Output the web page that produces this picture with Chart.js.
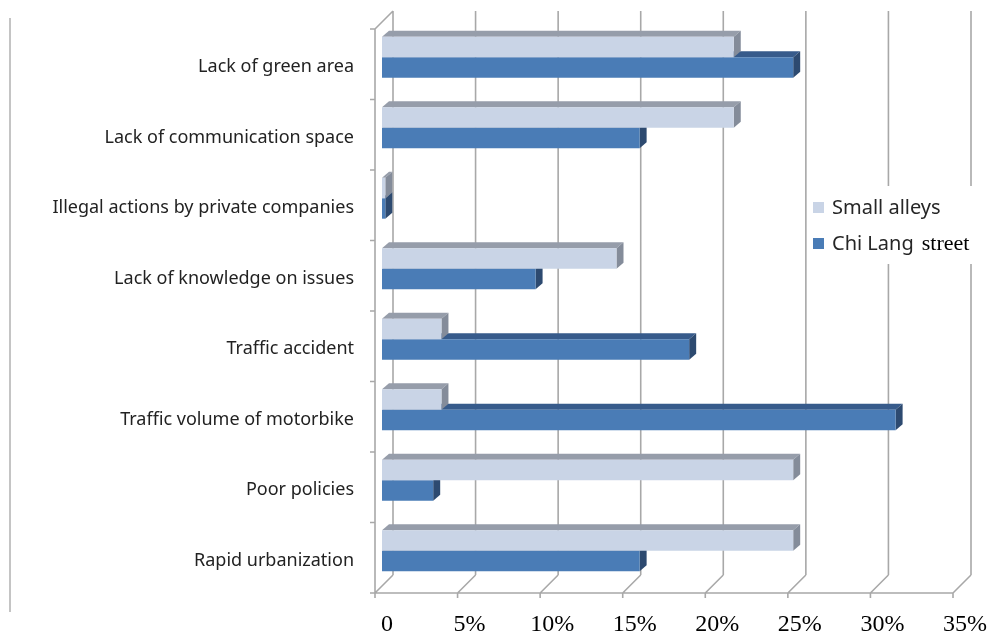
<!DOCTYPE html>
<html>
<head>
<meta charset="utf-8">
<script src="https://cdn.jsdelivr.net/npm/chart.js@4.4.0/dist/chart.umd.min.js"></script>
<style>
  html, body { margin: 0; padding: 0; background: #fff; }
  #wrap { width: 995px; height: 639px; position: relative; }
</style>
</head>
<body>
<div id="wrap"><canvas id="c" width="995" height="639"></canvas></div>
<script>
// values (percent)
const categories = [
    'Lack of green area',
    'Lack of communication space',
    'Illegal actions by private companies',
    'Lack of knowledge on issues',
    'Traffic accident',
    'Traffic volume of motorbike',
    'Poor policies',
    'Rapid urbanization',
];
const smallAlleys   = [21.3, 21.3, 0.2, 14.2, 3.6, 3.6, 24.9, 24.9];
const chiLangStreet = [24.9, 15.6, 0.2, 9.3, 18.6, 31.1, 3.1, 15.6];
const xTicks = [0, 5, 10, 15, 20, 25, 30, 35];
const seriesNames = ['Small alleys', 'Chi Lang'];

const FRONT = { dx: -7, dy: 7 };   // front plane offset from the bar plane
const BACK  = { dx: 11, dy: -11 }; // back wall offset
const DEPTH = { dx: 7, dy: -6 };   // bar depth

const faces = [
    { front: '#c9d4e6', top: '#969daa', side: '#848c9a' },
    { front: '#4a7cb6', top: '#375b8b', side: '#2d4a70' },
];

// back wall, floor and axes of the fake 3D box
const boxPlugin = {
    id: 'box3d',
    beforeDatasetsDraw(chart) {
        const { ctx, chartArea: ca, scales: { x: xs } } = chart;
        ctx.save();
        ctx.strokeStyle = '#a8a8a8';
        ctx.lineWidth = 1.6;
        ctx.beginPath();
        for (const v of xTicks) {
            const px = xs.getPixelForValue(v);
            ctx.moveTo(px + BACK.dx, ca.top + BACK.dy);
            ctx.lineTo(px + BACK.dx, ca.bottom + BACK.dy);
            ctx.moveTo(px + FRONT.dx, ca.bottom + FRONT.dy);
            ctx.lineTo(px + BACK.dx, ca.bottom + BACK.dy);
            ctx.moveTo(px + FRONT.dx, ca.bottom + FRONT.dy);
            ctx.lineTo(px + FRONT.dx, ca.bottom + FRONT.dy + 5);
        }
        const x0 = xs.getPixelForValue(xTicks[0]);
        const x1 = xs.getPixelForValue(xTicks[xTicks.length - 1]);
        ctx.moveTo(x0 + FRONT.dx, ca.bottom + FRONT.dy);
        ctx.lineTo(x1 + FRONT.dx, ca.bottom + FRONT.dy);
        ctx.moveTo(x0 + FRONT.dx, ca.top + FRONT.dy);
        ctx.lineTo(x0 + FRONT.dx, ca.bottom + FRONT.dy);
        ctx.moveTo(x0 + FRONT.dx, ca.top + FRONT.dy);
        ctx.lineTo(x0 + BACK.dx, ca.top + BACK.dy);
        const band = (ca.bottom - ca.top) / categories.length;
        for (let i = 0; i <= categories.length; i++) {
            const y = ca.top + i * band + FRONT.dy;
            ctx.moveTo(x0 + FRONT.dx - 5, y);
            ctx.lineTo(x0 + FRONT.dx, y);
        }
        ctx.stroke();

        // top and side faces of each bar, lower series first
        for (let d = chart.data.datasets.length - 1; d >= 0; d--) {
            const meta = chart.getDatasetMeta(d);
            const f = faces[d];
            for (const el of meta.data) {
                const top = el.y - el.height / 2;
                const bot = el.y + el.height / 2;
                ctx.fillStyle = f.top;
                ctx.beginPath();
                ctx.moveTo(el.base, top);
                ctx.lineTo(el.x, top);
                ctx.lineTo(el.x + DEPTH.dx, top + DEPTH.dy);
                ctx.lineTo(el.base + DEPTH.dx, top + DEPTH.dy);
                ctx.closePath();
                ctx.fill();
                ctx.fillStyle = f.side;
                ctx.beginPath();
                ctx.moveTo(el.x, top);
                ctx.lineTo(el.x + DEPTH.dx, top + DEPTH.dy);
                ctx.lineTo(el.x + DEPTH.dx, bot + DEPTH.dy);
                ctx.lineTo(el.x, bot);
                ctx.closePath();
                ctx.fill();
            }
        }
        ctx.restore();
    },
    afterDraw(chart) {
        const { ctx } = chart;
        ctx.save();
        // page rule on the left
        ctx.strokeStyle = '#c4c4c4';
        ctx.lineWidth = 2;
        ctx.beginPath();
        ctx.moveTo(10, 18);
        ctx.lineTo(10, 612);
        ctx.stroke();

        // legend
        ctx.fillStyle = '#fff';
        ctx.fillRect(808, 186, 187, 78);
        ctx.textBaseline = 'middle';
        const rows = [208, 244];
        rows.forEach((y, i) => {
            ctx.fillStyle = faces[i].front;
            ctx.fillRect(813, y - 6, 11, 11);
            ctx.fillStyle = '#262626';
            ctx.font = '20px "Noto Sans"';
            ctx.fillText(seriesNames[i], 832, y);
        });
        const w = ctx.measureText(seriesNames[1]).width;
        ctx.fillStyle = '#000';
        ctx.font = '22px "Liberation Serif"';
        ctx.fillText('street', 832 + w + 8, rows[1]);
        ctx.restore();
    },
};

new Chart(document.getElementById('c'), {
    type: 'bar',
    data: {
        labels: categories,
        datasets: [
            { label: seriesNames[0], data: smallAlleys, backgroundColor: faces[0].front },
            { label: seriesNames[1] + ' street', data: chiLangStreet, backgroundColor: faces[1].front },
        ],
    },
    options: {
        indexAxis: 'y',
        responsive: false,
        animation: false,
        layout: { padding: { top: 22, right: 35, left: 0, bottom: 0 } },
        datasets: { bar: { categoryPercentage: 0.58, barPercentage: 1.0, borderWidth: 0 } },
        plugins: { legend: { display: false }, tooltip: { enabled: false } },
        scales: {
            x: {
                min: 0, max: 35,
                grid: { display: false, drawTicks: true, tickLength: 24 },
                border: { display: false },
                afterFit: (s) => { s.height = 53; },
                afterBuildTicks: (s) => { s.ticks = xTicks.map(v => ({ value: v })); },
                ticks: {
                    padding: 0,
                    labelOffset: 5,
                    maxRotation: 0,
                    color: '#000',
                    font: { family: '"Liberation Serif"', size: 24 },
                    callback: (v) => v === 0 ? '0' : v + '%',
                },
            },
            y: {
                grid: { display: false, drawTicks: true, tickLength: 28 },
                border: { display: false },
                afterFit: (s) => { s.width = 382; },
                ticks: {
                    padding: 0,
                    labelOffset: 10,
                    color: '#222',
                    font: { family: '"Noto Sans"', size: 18 },
                },
            },
        },
    },
    plugins: [boxPlugin],
});
</script>
</body>
</html>
